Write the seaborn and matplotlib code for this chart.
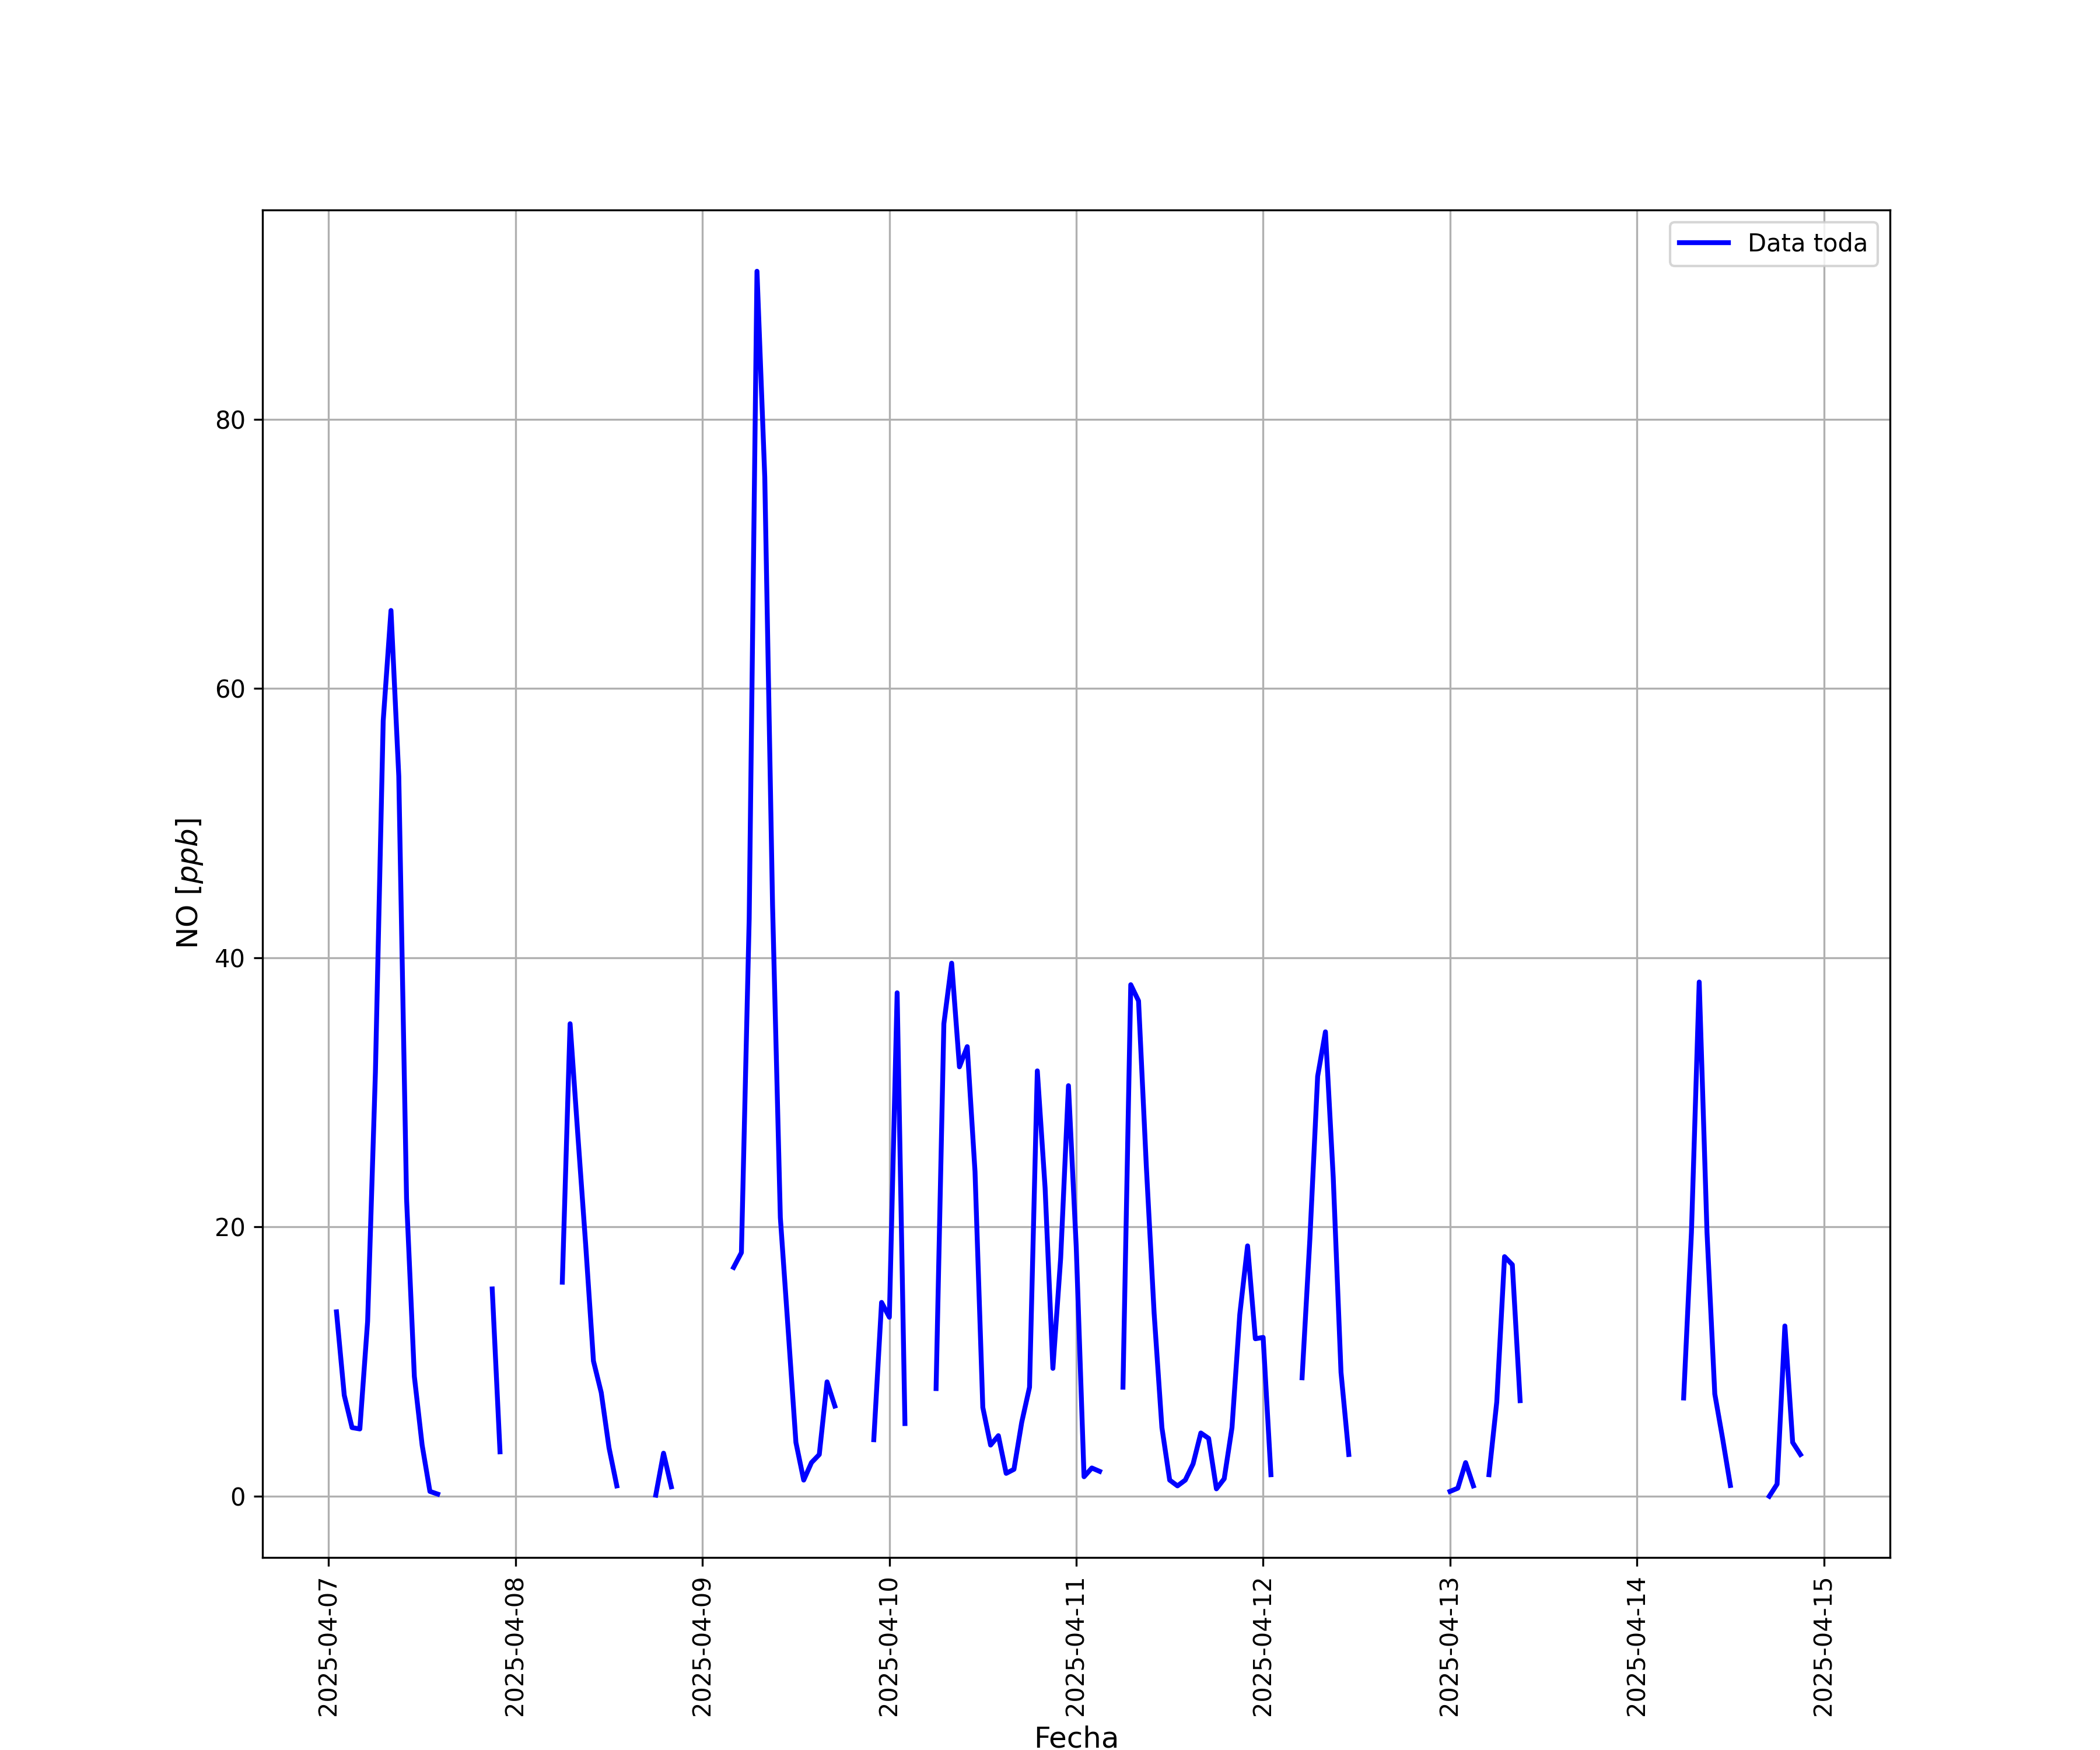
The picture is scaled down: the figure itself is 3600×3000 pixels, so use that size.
import numpy as np
import pandas as pd
import matplotlib
matplotlib.use('Agg')
import matplotlib.pyplot as plt
import seaborn as sns

# ========================================
# Datos: NO horario [ppb], desde 2025-04-07 01:00 (nan = sin dato)
# ========================================
nan = np.nan
INICIO = "2025-04-07 01:00"

no_ppb = [
    # 04-07
    13.7, 7.5, 5.1, 5.0, 13.0, 31.5, 57.6, 65.8, 53.5, 22.1, 8.9, 3.8, 0.36, 0.16,
    nan, nan, nan, nan, nan, nan,
    15.4, 3.3,
    nan, nan, nan, nan, nan, nan, nan,
    # 04-08
    15.9, 35.1, 26.8, 18.7, 10.05, 7.7, 3.6, 0.77,
    nan, nan, nan, nan,
    0.08, 3.2, 0.7,
    nan, nan, nan, nan, nan, nan, nan,
    # 04-09
    17.0, 18.1, 42.9, 91.0, 75.7, 43.9, 20.7, 12.4, 4.0, 1.2, 2.5, 3.1, 8.5, 6.7,
    nan, nan, nan, nan,
    4.2, 14.4, 13.3, 37.4, 5.4,
    nan, nan, nan,
    # 04-10
    8.0, 35.1, 39.6, 31.9, 33.4, 24.1, 6.6, 3.8, 4.5, 1.7, 2.0, 5.5, 8.1,
    31.6, 22.9, 9.5, 17.7, 30.5, 18.5, 1.45, 2.1, 1.85,
    nan, nan,
    # 04-11
    8.1, 38.0, 36.8, 24.5, 13.6, 5.1, 1.2, 0.77, 1.2, 2.4, 4.7, 4.3, 0.55,
    1.3, 5.1, 13.5, 18.6, 11.7, 11.8, 1.6,
    nan, nan, nan,
    # 04-12
    8.8, 19.1, 31.2, 34.5, 23.7, 9.2, 3.1,
    nan, nan, nan, nan, nan, nan, nan, nan, nan, nan, nan, nan,
    # 04-13
    0.36, 0.6, 2.5, 0.77,
    nan,
    1.6, 7.0, 17.8, 17.2, 7.1,
    nan, nan, nan, nan, nan, nan, nan, nan, nan, nan,
    nan, nan, nan, nan, nan, nan, nan, nan, nan, nan,
    # 04-14
    7.3, 19.6, 38.2, 19.6, 7.6, 4.3, 0.8,
    nan, nan, nan, nan,
    0.0, 0.9, 12.65, 4.0, 3.1,
    nan,
    1.5,   # dato aislado (no se dibuja como linea)
]

df = pd.DataFrame({
    'fecha': pd.date_range(INICIO, periods=len(no_ppb), freq='h'),
    'NO': no_ppb,
})
# tramos continuos para respetar los huecos
df['tramo'] = df['NO'].isna().cumsum()

# ========================================
# Grafico
# ========================================
fig, ax = plt.subplots(figsize=(12, 10))

sns.lineplot(data=df, x='fecha', y='NO', units='tramo', estimator=None,
             color='blue', linewidth=2, label='Data toda', legend=False, ax=ax)

ax.set_xlabel('Fecha', fontsize=12)
ax.set_ylabel('NO [$ppb$]', fontsize=12)
ax.grid(True)
ax.legend(handles=[ax.lines[0]], labels=['Data toda'], loc='upper right')
plt.setp(ax.get_xticklabels(), rotation=90)

fig.savefig('out.png', dpi=300)
plt.close()
